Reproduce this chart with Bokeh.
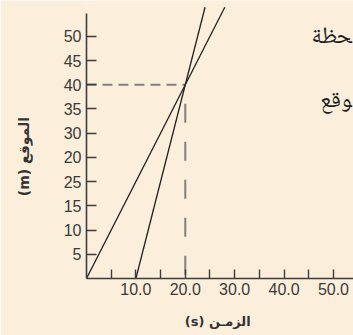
from bokeh.plotting import figure
from bokeh.models import FixedTicker, Range1d
from bokeh.core.properties import value
from bokeh.embed import file_html
from bokeh.resources import INLINE

# ---- data ----
y_ticks = [5, 10, 15, 20, 25, 30, 35, 40, 45, 50]
y_tick_labels = ["5", "10", "15", "25", "20", "30", "35", "40", "45", "50"]
x_ticks = [10, 20, 30, 40, 50]
x_minor_ticks = [5, 15, 25, 35, 45]
x_tick_labels = ["10.0", "20.0", "30.0", "40.0", "50.0"]

line_a_t = [0, 28]
line_a_pos = [0, 56]
line_b_t = [10, 24]
line_b_pos = [0, 56]

meet_t = 20
meet_pos = 40

# words of the surrounding page text, cut at the right edge
side_words = ["\u200dحظة", "\u200dوقع"]
side_t = [53.7, 53.7]
side_pos = [49.6, 36.4]

x_label = "(s)  الزمـن"
y_label = "(m)  الموقع" + "\u00a0" * 6

BG = "#FBEFDC"
AX = "#3d3d3d"

p = figure(width=353, height=335, output_backend="svg", toolbar_location=None,
           x_range=Range1d(0, 54.06), y_range=Range1d(0, 57.4),
           min_border_left=86, min_border_right=0, min_border_top=0,
           min_border_bottom=57)
p.background_fill_color = BG
p.border_fill_color = BG
p.outline_line_color = None
p.xgrid.visible = False
p.ygrid.visible = False

# axes
xa = p.xaxis[0]
xa.ticker = FixedTicker(ticks=x_ticks, minor_ticks=x_minor_ticks)
xa.major_label_overrides = {t: l for t, l in zip(x_ticks, x_tick_labels)}
xa.major_tick_in = 9
xa.major_tick_out = 0
xa.minor_tick_in = 9
xa.minor_tick_out = 0
xa.axis_line_color = AX
xa.axis_line_width = 1.6
xa.major_tick_line_color = AX
xa.minor_tick_line_color = AX
xa.major_tick_line_width = 1.4
xa.minor_tick_line_width = 1.4
xa.major_label_text_font = "Liberation Sans"
xa.major_label_text_font_size = "16px"
xa.major_label_text_color = "#3a3a3a"
xa.major_label_standoff = 4
xa.axis_label = x_label
xa.axis_label_text_font = "DejaVu Sans"
xa.axis_label_text_font_size = "13px"
xa.axis_label_text_font_style = "bold"
xa.axis_label_text_color = "#333333"
xa.axis_label_standoff = 16

ya = p.yaxis[0]
ya.ticker = FixedTicker(ticks=y_ticks, minor_ticks=[])
ya.major_label_overrides = {t: l for t, l in zip(y_ticks, y_tick_labels)}
ya.bounds = (0, 54.75)
ya.major_tick_in = 10
ya.major_tick_out = 0
ya.axis_line_color = AX
ya.axis_line_width = 1.6
ya.major_tick_line_color = AX
ya.major_tick_line_width = 1.4
ya.major_label_text_font = "Liberation Sans"
ya.major_label_text_font_size = "16px"
ya.major_label_text_color = "#3a3a3a"
ya.major_label_standoff = 5
ya.axis_label = y_label
ya.axis_label_text_font = "DejaVu Sans"
ya.axis_label_text_font_size = "14px"
ya.axis_label_text_font_style = "bold"
ya.axis_label_text_color = "#333333"
ya.axis_label_standoff = 29

# dashed guides
p.line([0, meet_t], [meet_pos, meet_pos], line_color="#808080", line_width=2,
       line_dash="10 6")
p.line([meet_t, meet_t], [meet_pos, 0], line_color="#808080", line_width=2,
       line_dash="19 19", line_dash_offset=19)

# motion lines
p.line(line_a_t, line_a_pos, line_color="#222222", line_width=1.3)
p.line(line_b_t, line_b_pos, line_color="#222222", line_width=1.3)

# side text of the page
p.text(x=side_t, y=side_pos, text=side_words,
       text_font=value("Noto Naskh Arabic"),
       text_font_size="23px", text_color="#1e1e1e", text_align="right",
       text_baseline="middle")

open("out.html", "w").write(file_html(p, INLINE))
